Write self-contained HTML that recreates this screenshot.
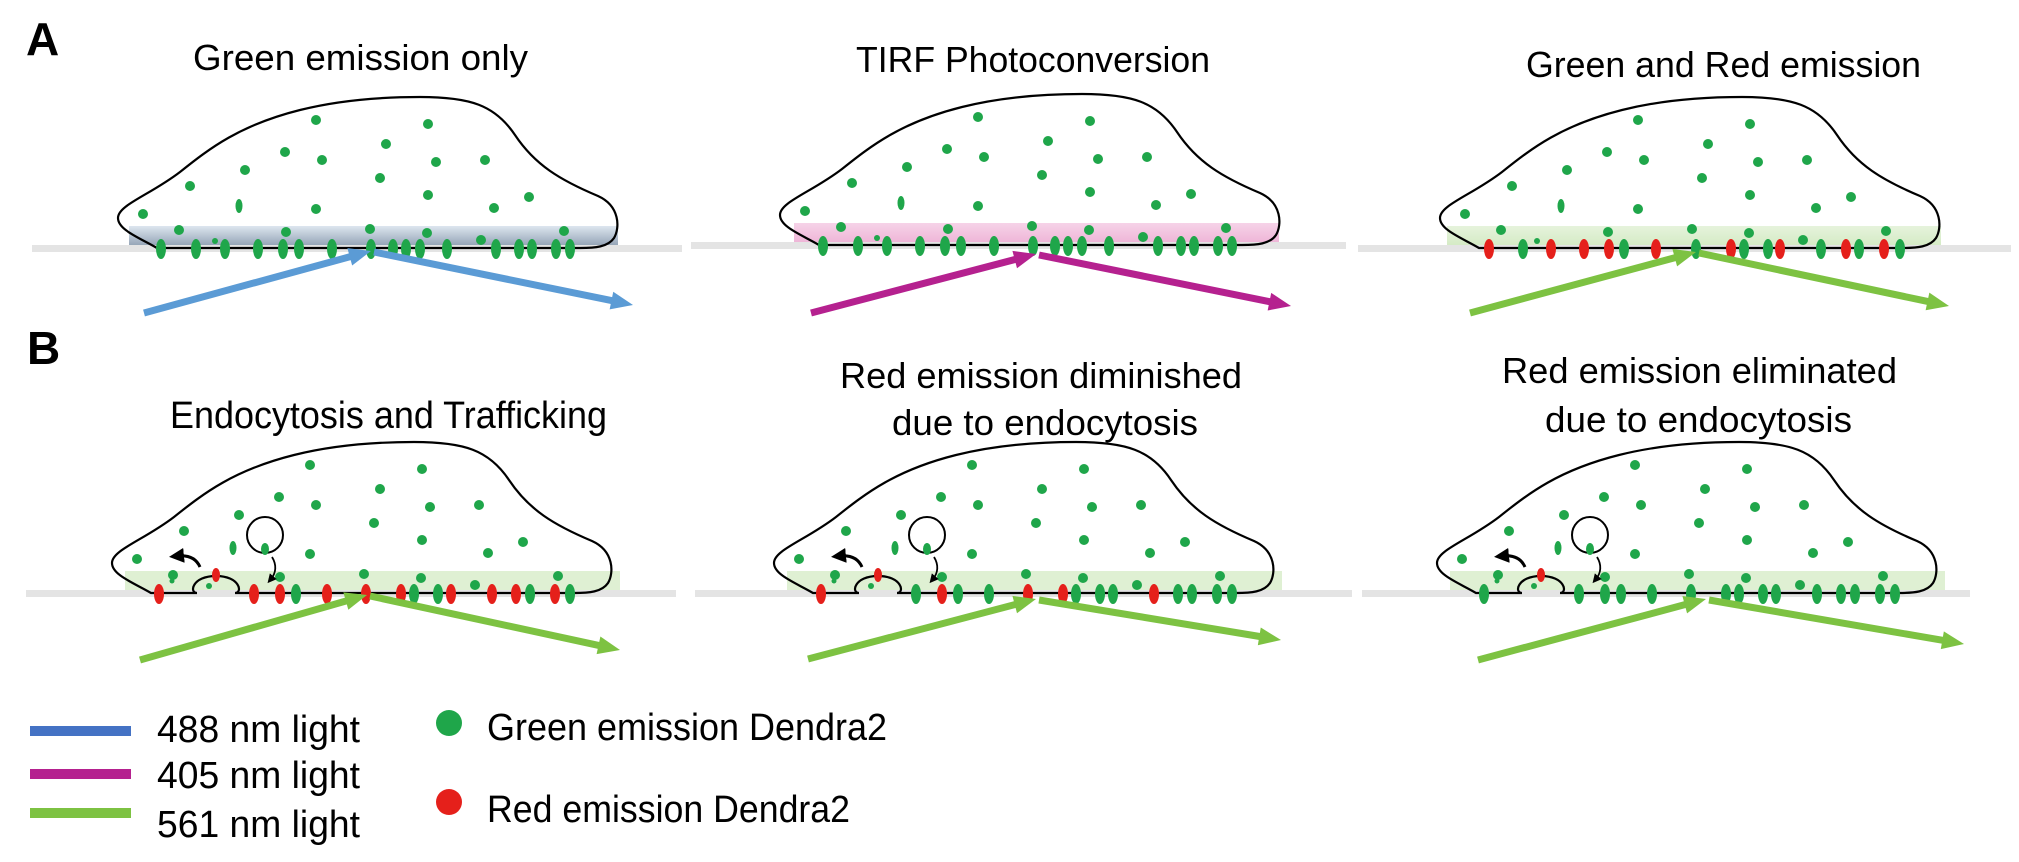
<!DOCTYPE html>
<html><head><meta charset="utf-8"><style>
html,body{margin:0;padding:0;background:#fff;}
svg{display:block;}
text{font-family:"Liberation Sans",sans-serif;fill:#000;}
</style></head><body>
<svg id="s" width="2019" height="862" viewBox="0 0 2019 862" xmlns="http://www.w3.org/2000/svg">
<defs>
<linearGradient id="gb" x1="0" y1="0" x2="0" y2="1"><stop offset="0" stop-color="#dde6ef"/><stop offset="1" stop-color="#8f9fb2"/></linearGradient>
<linearGradient id="gp" x1="0" y1="0" x2="0" y2="1"><stop offset="0" stop-color="#f6d3e8"/><stop offset="1" stop-color="#eeb3d6"/></linearGradient>
<linearGradient id="gg" x1="0" y1="0" x2="0" y2="1"><stop offset="0" stop-color="#e6f3dc"/><stop offset="1" stop-color="#d3eac3"/></linearGradient>
<marker id="mk" markerWidth="5" markerHeight="5" refX="2" refY="2.5" orient="auto" markerUnits="strokeWidth"><path d="M0,0 L5,2.5 L0,5 Z" fill="#000"/></marker>
</defs>
<g id="cells"></g>
<text x="26" y="55" font-size="46" font-weight="bold">A</text>
<text x="27" y="364" font-size="46" font-weight="bold">B</text>
<text x="193" y="70" font-size="36" textLength="335" lengthAdjust="spacingAndGlyphs">Green emission only</text>
<text x="856" y="72" font-size="36" textLength="354" lengthAdjust="spacingAndGlyphs">TIRF Photoconversion</text>
<text x="1526" y="77" font-size="36" textLength="395" lengthAdjust="spacingAndGlyphs">Green and Red emission</text>
<text x="170" y="428" font-size="38" textLength="437" lengthAdjust="spacingAndGlyphs">Endocytosis and Trafficking</text>
<text x="840" y="388" font-size="36" textLength="402" lengthAdjust="spacingAndGlyphs">Red emission diminished</text>
<text x="892" y="435" font-size="36" textLength="306" lengthAdjust="spacingAndGlyphs">due to endocytosis</text>
<text x="1502" y="383" font-size="36" textLength="395" lengthAdjust="spacingAndGlyphs">Red emission eliminated</text>
<text x="1545" y="432" font-size="36" textLength="307" lengthAdjust="spacingAndGlyphs">due to endocytosis</text>
<rect x="30" y="726" width="101" height="10" fill="#4472c4"/>
<rect x="30" y="769" width="101" height="10" fill="#b5218f"/>
<rect x="30" y="808" width="101" height="10" fill="#7dc242"/>
<text x="157" y="742" font-size="38" textLength="203" lengthAdjust="spacingAndGlyphs">488 nm light</text>
<text x="157" y="788" font-size="38" textLength="203" lengthAdjust="spacingAndGlyphs">405 nm light</text>
<text x="157" y="837" font-size="38" textLength="203" lengthAdjust="spacingAndGlyphs">561 nm light</text>
<ellipse cx="449" cy="723" rx="13" ry="13" fill="#1fa64a"/>
<ellipse cx="449" cy="802" rx="13" ry="13" fill="#e5201b"/>
<text x="487" y="740" font-size="38" textLength="400" lengthAdjust="spacingAndGlyphs">Green emission Dendra2</text>
<text x="487" y="822" font-size="38" textLength="363" lengthAdjust="spacingAndGlyphs">Red emission Dendra2</text>
</svg>
<script>
var NS="http://www.w3.org/2000/svg",G="#1fa64a",R="#e5201b";
var root=document.getElementById("cells");
function el(p,t,a){var e=document.createElementNS(NS,t);for(var k in a)e.setAttribute(k,a[k]);p.appendChild(e);return e;}
var dots=[[316,120],[428,124],[386,144],[285,152],[322,160],[436,162],[485,160],[245,170],[380,178],[190,186],[428,195],[143,214],[316,209],[494,208],[529,197],[179,230],[286,232],[370,229],[427,233],[215,241,3],[481,240],[564,231]];
var xsA=[161,196,225,258,283,299,332,371,393,406,420,447,496,519,532,556,570];
var xsB=[165,260,286,302,333,372,407,420,444,457,498,522,536,561,576];
var xs3=[167,201,229,262,287,302,334,374,409,422,446,458,499,524,537,562,578];
var c3="RGRRRGRGRGGRGRGRG";
var cB1="RRRGRRRGGRRRGRG", cB2="RGRGGRRGGGRGGGG", cB3="GGGGGGGGGGGGGGG";
var outlineA="M157,248 C140,238 118,230 118,218 C118,205 150,195 180,172 C210,148 240,125 300,110 C340,100 380,97 420,97 C470,97 495,105 515,135 C535,165 560,180 598,196 C620,206 620,228 614,238 C608,247 595,248 580,248 Z";
var outlineB="M157,248 C140,238 118,230 118,218 C118,205 150,195 180,172 C210,148 240,125 300,110 C340,100 380,97 420,97 C470,97 495,105 515,135 C535,165 560,180 598,196 C620,206 620,228 614,238 C608,247 595,248 580,248 L241,248 C249,248 246,231 222,231 C198,231 195,248 203,248 Z";
var cells=[
 {t:[0,0],band:"url(#gb)",bx:[129,618],gl:[32,682],xs:xsA,c:null},
 {t:[662,-3],band:"url(#gp)",bx:[132,617],gl:[29,684],xs:xsA,c:null},
 {t:[1322,0],band:"url(#gg)",bx:[125,619],gl:[36,689],xs:xs3,c:c3},
 {t:[-6,345],band:"#d9edcb",bx:[131,626],gl:[32,682],xs:xsB,c:cB1,B:1},
 {t:[656,345],band:"#d9edcb",bx:[131,626],gl:[39,696],xs:xsB,c:cB2,B:1},
 {t:[1319,345],band:"#d9edcb",bx:[131,626],gl:[43,651],xs:xsB,c:cB3,B:1}];
cells.forEach(function(c){
 var g=el(root,"g",{transform:"translate("+c.t[0]+","+c.t[1]+")"});
 el(g,"rect",{x:c.bx[0],y:226,width:c.bx[1]-c.bx[0],height:21,fill:c.band,opacity:c.B?0.85:1});
 el(g,"rect",{x:c.gl[0],y:245,width:c.gl[1]-c.gl[0],height:7,fill:"#e4e4e4"});
 el(g,"path",{d:c.B?outlineB:outlineA,fill:"none",stroke:"#000","stroke-width":2.2});
 dots.forEach(function(d){el(g,"ellipse",{cx:d[0],cy:d[1],rx:d[2]||5,ry:d[2]||5,fill:G});});
 if(!c.B) el(g,"ellipse",{cx:239,cy:206,rx:3.5,ry:7,fill:G});
 c.xs.forEach(function(x,i){var col=c.c?(c.c[i]=="R"?R:G):G;el(g,"ellipse",{cx:x,cy:249,rx:5,ry:10,fill:col});});
 if(c.B){
  el(g,"ellipse",{cx:222,cy:230,rx:4,ry:7,fill:R});
  el(g,"ellipse",{cx:239,cy:203,rx:3.5,ry:7,fill:G});
  el(g,"circle",{cx:271,cy:190,r:18,fill:"none",stroke:"#000","stroke-width":2});
  el(g,"ellipse",{cx:271,cy:204,rx:4,ry:6,fill:G});
  el(g,"path",{d:"M206,222 C202,213 194,210 184,211",fill:"none",stroke:"#000","stroke-width":3,"marker-end":"url(#mk)"});
  el(g,"path",{d:"M278,212 C283,220 282,228 277,234",fill:"none",stroke:"#000","stroke-width":1.8,"marker-end":"url(#mk)"});
  el(g,"circle",{cx:178,cy:236,r:2.5,fill:G});
 }
});
var arrows=[
 [[144,313],[371,251],[633,305],"#5b9bd5"],
 [[811,313],[1036,254],[1291,306],"#b5218f"],
 [[1470,313],[1696,252],[1949,306],"#7dc242"],
 [[140,660],[367,595],[620,650],"#7dc242"],
 [[808,659],[1036,599],[1281,640],"#7dc242"],
 [[1478,660],[1706,599],[1964,644],"#7dc242"]];
var s=document.getElementById("s");
arrows.forEach(function(a){
 function seg(p,q){
  var dx=q[0]-p[0],dy=q[1]-p[1],L=Math.sqrt(dx*dx+dy*dy),ux=dx/L,uy=dy/L;
  var hl=22,hw=9,bx=q[0]-ux*hl,by=q[1]-uy*hl;
  el(s,"line",{x1:p[0],y1:p[1],x2:bx+ux*2,y2:by+uy*2,stroke:a[3],"stroke-width":7});
  el(s,"polygon",{points:q[0]+","+q[1]+" "+(bx-uy*hw)+","+(by+ux*hw)+" "+(bx+uy*hw)+","+(by-ux*hw),fill:a[3]});
 }
 seg(a[0],a[1]);seg([a[1][0]+3,a[1][1]+1],a[2]);
});
</script>
</body></html>
